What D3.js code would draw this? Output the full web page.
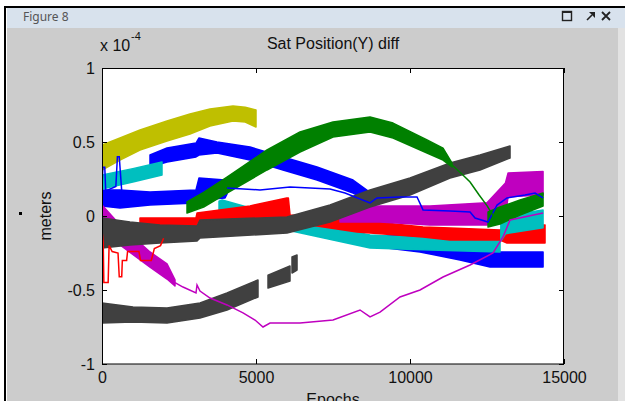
<!DOCTYPE html>
<html>
<head>
<meta charset="utf-8">
<script src="https://cdn.jsdelivr.net/npm/d3@7"></script>
<style>
  body { margin: 0; background: #fff; }
  svg { display: block; }
  text { font-family: "Liberation Sans", Arial, sans-serif; }
</style>
</head>
<body>
<svg id="chart" width="625" height="401"></svg>
<script>
// ---- data (epochs, values in units of 1e-4 m) ----
const xTicks = [0, 5000, 10000, 15000];
const xTickLabels = ["0", "5000", "10000", "15000"];
const yTicks = [-1, -0.5, 0, 0.5, 1];
const yTickLabels = ["-1", "-0.5", "0", "0.5", "1"];

// noisy bands: [epoch, upper, lower]
const olive = [[0,0.48,0.31],[584,0.527,0.378],[1234,0.581,0.446],[2110,0.642,0.507],[2857,0.689,0.554],[3507,0.723,0.608],[4253,0.743,0.642],[4650,0.735,0.635],[5000,0.716,0.601]];
const cyanA = [[0,0.277,0.182],[1000,0.32,0.23],[1948,0.365,0.277]];
const cyanB = [[3800,0.1,0.02],[3900,0.108,0.0],[6007,-0.014,-0.095],[8702,-0.128,-0.216],[10650,-0.149,-0.23],[12923,-0.162,-0.243]];
const cyanC = [[12950,-0.03,-0.17],[13100,0.0,-0.12],[14320,0.04,-0.08]];
const redBand = [[1234,-0.014,-0.11],[3050,-0.014,-0.11],[3085,0.02,-0.047],[4806,0.068,-0.047],[6000,0.122,-0.047],[6050,0.122,-0.047],[6105,0.007,-0.041],[8280,-0.027,-0.108],[10423,-0.074,-0.142],[11300,-0.081,-0.162],[12923,-0.095,-0.162],[13150,-0.074,-0.182],[14384,-0.06,-0.182]];
const magentaA = [[0,0.074,-0.061],[584,-0.061,-0.196],[1559,-0.243,-0.345],[2111,-0.324,-0.426],[2370,-0.432,-0.473]];
const magentaC = [[7728,0.061,-0.041],[9027,0.068,-0.041],[10650,0.068,-0.061],[12501,0.09,-0.061],[13100,0.223,0.0],[13183,0.29,0.13],[14320,0.3,0.142]];
const grayMain = [[0,-0.014,-0.216],[909,-0.041,-0.196],[1883,-0.061,-0.182],[3085,-0.068,-0.169],[3182,-0.027,-0.149],[6007,-0.007,-0.115],[7403,0.074,-0.041],[8702,0.176,0.061],[10001,0.257,0.142],[11300,0.358,0.257],[12274,0.412,0.311],[13248,0.473,0.392]];
const grayLowA = [[0,-0.588,-0.723],[1007,-0.615,-0.716],[2111,-0.622,-0.723],[3182,-0.588,-0.689],[4059,-0.52,-0.635],[5065,-0.432,-0.547]];
const grayLowB = [[5390,-0.4,-0.486],[6104,-0.338,-0.44]];
const grayLowC = [[6169,-0.277,-0.385],[6332,-0.264,-0.365]];
const greenBand = [[2760,0.095,0.02],[3300,0.16,0.06],[4059,0.263,0.155],[5358,0.446,0.311],[6429,0.568,0.432],[7501,0.635,0.534],[8702,0.669,0.568],[9449,0.628,0.527],[10553,0.514,0.426],[11072,0.459,0.378],[11365,0.358,0.331]];
const greenRight = [[12534,0.027,-0.074],[12923,0.061,-0.054],[13573,0.108,0.007],[14320,0.155,0.068]];
const blueLowLeft = [[0,0.176,0.068],[584,0.176,0.054],[1559,0.162,0.074],[3052,0.176,0.088],[3150,0.257,0.108],[3994,0.243,0.122],[4060,0.2,0.15]];
const blueUpper = [[1559,0.412,0.331],[2111,0.459,0.365],[3052,0.493,0.399],[3150,0.527,0.412],[3734,0.5,0.426],[4806,0.466,0.378],[5877,0.399,0.311],[6981,0.331,0.243],[8150,0.243,0.155],[8767,0.149,0.088]];
const blueLowRight = [[9254,-0.108,-0.216],[10325,-0.135,-0.243],[11624,-0.196,-0.297],[12599,-0.243,-0.345],[14320,-0.243,-0.345]];

// thin lines: [epoch, value]
const magentaThin = [[2370,-0.45],[2630,-0.48],[3052,-0.52],[3085,-0.466],[3182,-0.507],[3507,-0.554],[4059,-0.601],[4578,-0.655],[4968,-0.703],[5228,-0.75],[5455,-0.723],[6429,-0.723],[7501,-0.703],[8377,-0.635],[8702,-0.682],[9027,-0.649],[9676,-0.547],[10325,-0.5],[11072,-0.412],[11950,-0.331],[12696,-0.25],[13020,-0.142],[13248,-0.027],[14320,0.02]];
const blueThin = [[4059,0.189],[5130,0.176],[6104,0.196],[7403,0.182],[7890,0.155],[8702,0.088],[8930,0.122],[9676,0.128],[10228,0.128],[10423,0.041],[11300,0.034],[11950,0.027],[12112,-0.014],[12534,-0.041],[12826,0.074],[13150,0.122],[13735,0.142],[14060,0.155],[14320,0.122]];
const blueSpikes = [[0,0.2],[30,0.33],[90,0.33],[120,0.17],[450,0.2],[500,0.4],[560,0.4],[640,0.17]];
const greenThin = [[11365,0.345],[11700,0.28],[11950,0.23],[12250,0.14],[12500,0.07],[12650,0.02],[12800,-0.03]];
const redThin = [[0,-0.1],[40,-0.18],[60,-0.45],[200,-0.45],[230,-0.2],[330,-0.24],[520,-0.25],[560,-0.41],[640,-0.41],[660,-0.3],[800,-0.3],[830,-0.24],[1200,-0.24],[1250,-0.3],[1600,-0.3],[1700,-0.22],[1900,-0.2],[2000,-0.15]];

const C = { b: "#0000ff", g: "#008000", r: "#ff0000", c: "#00bfbf", m: "#bf00bf", y: "#bfbf00", k: "#404040" };

// drawing order (later on top)
const bandLayers = [
  [blueLowLeft, C.b], [blueUpper, C.b], [blueLowRight, C.b],
  [cyanA, C.c], [cyanB, C.c], [redBand, C.r], [cyanC, C.c],
  [magentaA, C.m], [magentaC, C.m],
  [grayMain, C.k], [grayLowA, C.k], [grayLowB, C.k], [grayLowC, C.k],
  [greenBand, C.g], [greenRight, C.g], [olive, C.y]
];
const lineLayers = [
  [magentaThin, C.m], [blueThin, C.b], [blueSpikes, C.b], [greenThin, C.g], [redThin, C.r]
];

// ---- window chrome ----
const svg = d3.select("#chart");
svg.append("rect").attr("width", 625).attr("height", 401).attr("fill", "#fff");
svg.append("rect").attr("x", 7).attr("y", 8).attr("width", 618).attr("height", 393).attr("fill", "#cccccc");
svg.append("rect").attr("x", 7).attr("y", 8).attr("width", 618).attr("height", 20).attr("fill", "#d8e2ed");
svg.append("rect").attr("x", 618).attr("y", 28).attr("width", 7).attr("height", 373).attr("fill", "#e2e2e2");
svg.append("rect").attr("x", 4).attr("y", 6).attr("width", 621).attr("height", 2).attr("fill", "#000");
svg.append("rect").attr("x", 4).attr("y", 6).attr("width", 2).attr("height", 395).attr("fill", "#000");
svg.append("rect").attr("x", 19).attr("y", 212).attr("width", 3).attr("height", 3).attr("fill", "#000");

svg.append("text").attr("x", 23).attr("y", 21).attr("font-size", 12)
  .style("font-family", "'Noto Sans', 'Open Sans', sans-serif").attr("fill", "#555").text("Figure 8");

// window buttons
svg.append("rect").attr("x", 562.5).attr("y", 11.5).attr("width", 9).attr("height", 9)
  .attr("fill", "none").attr("stroke", "#222").attr("stroke-width", 1.4);
svg.append("line").attr("x1", 562).attr("x2", 572).attr("y1", 12).attr("y2", 12).attr("stroke", "#222").attr("stroke-width", 2);
svg.append("path").attr("d", "M587,20 L592,15").attr("stroke", "#222").attr("stroke-width", 1.6);
svg.append("path").attr("d", "M589,12 L595,12 L595,18 Z").attr("fill", "#222");
svg.append("path").attr("d", "M602,12 L610,20 M610,12 L602,20").attr("stroke", "#222").attr("stroke-width", 1.8);

// ---- axes ----
const x = d3.scaleLinear().domain([0, 15000]).range([102, 564]);
const y = d3.scaleLinear().domain([-1, 1]).range([364, 68]);

svg.append("rect").attr("x", 102).attr("y", 68).attr("width", 462).attr("height", 296).attr("fill", "#fff");

svg.append("clipPath").attr("id", "plotclip")
  .append("rect").attr("x", 102).attr("y", 68).attr("width", 462).attr("height", 296);

const plot = svg.append("g").attr("clip-path", "url(#plotclip)");

const area = d3.area().x(d => x(d[0])).y0(d => y(d[2])).y1(d => y(d[1]));
const line = d3.line().x(d => x(d[0])).y(d => y(d[1]));

bandLayers.forEach(([data, color]) => {
  plot.append("path").attr("d", area(data))
    .attr("fill", color).attr("stroke", color).attr("stroke-width", 1.5).attr("stroke-linejoin", "round");
});
lineLayers.forEach(([data, color]) => {
  plot.append("path").attr("d", line(data))
    .attr("fill", "none").attr("stroke", color).attr("stroke-width", 1.5);
});

// box
svg.append("rect").attr("x", 102.5).attr("y", 68.5).attr("width", 461).attr("height", 295.5)
  .attr("fill", "none").attr("stroke", "#000").attr("stroke-width", 1);

const xAxis = svg.append("g").attr("transform", "translate(0,364)")
  .call(d3.axisBottom(x).tickValues(xTicks).tickFormat((d, i) => xTickLabels[i]).tickSize(-5).tickSizeOuter(0).tickPadding(8));
const xAxisTop = svg.append("g").attr("transform", "translate(0,68)")
  .call(d3.axisTop(x).tickValues(xTicks).tickFormat("").tickSize(-5).tickSizeOuter(0));
const yAxis = svg.append("g").attr("transform", "translate(102,0)")
  .call(d3.axisLeft(y).tickValues(yTicks).tickFormat((d, i) => yTickLabels[i]).tickSize(-5).tickSizeOuter(0).tickPadding(7));
const yAxisRight = svg.append("g").attr("transform", "translate(564,0)")
  .call(d3.axisRight(y).tickValues(yTicks).tickFormat("").tickSize(-5).tickSizeOuter(0));

[xAxis, xAxisTop, yAxis, yAxisRight].forEach(g => {
  g.select(".domain").remove();
  g.selectAll("text").attr("font-size", 16).attr("fill", "#111")
    .style("font-family", "'Liberation Sans', Arial, sans-serif");
  g.selectAll("line").attr("stroke", "#000");
});

// ---- labels ----
svg.append("text").attr("x", 333).attr("y", 49).attr("text-anchor", "middle")
  .attr("font-size", 16).attr("fill", "#111").text("Sat Position(Y) diff");
svg.append("text").attr("x", 100).attr("y", 51).attr("font-size", 16).attr("fill", "#111").text("x 10");
svg.append("text").attr("x", 131).attr("y", 40).attr("font-size", 11).attr("fill", "#111").text("-4");
svg.append("text").attr("transform", "translate(51,216) rotate(-90)").attr("text-anchor", "middle")
  .attr("font-size", 16).attr("fill", "#111").text("meters");
svg.append("text").attr("x", 333).attr("y", 405).attr("text-anchor", "middle")
  .attr("font-size", 16).attr("fill", "#111").text("Epochs");
</script>
</body>
</html>
